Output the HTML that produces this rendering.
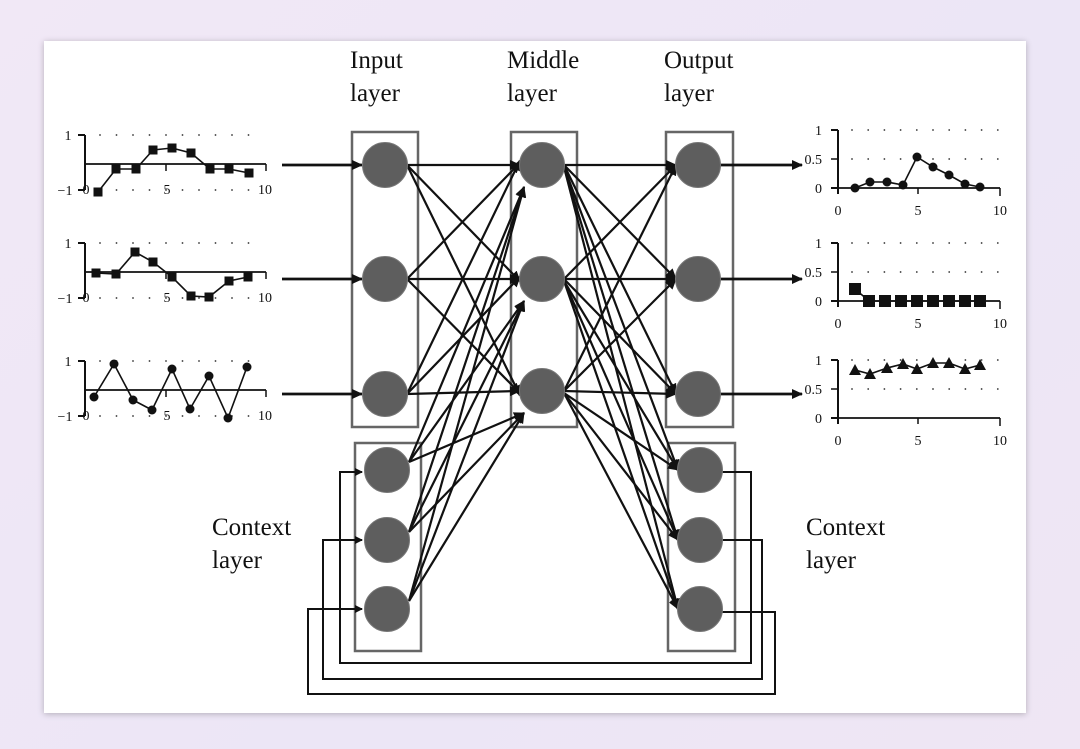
<!DOCTYPE html>
<html><head><meta charset="utf-8"><style>
html,body{margin:0;padding:0;width:1080px;height:749px;overflow:hidden;background:linear-gradient(135deg,#f1e8f6,#ece6f6 60%,#efe6f4);}
#card{position:absolute;left:44px;top:41px;width:982px;height:672px;background:#fff;box-shadow:0 1px 6px rgba(0,0,0,0.25);}
svg{position:absolute;left:0;top:0;}
text{font-family:"Liberation Serif",serif;fill:#111;}
</style></head><body>
<div id="card"></div>
<svg id="s" width="1080" height="749" viewBox="0 0 1080 749">
<defs>
<marker id="a" markerWidth="8" markerHeight="8" refX="7" refY="4" orient="auto" markerUnits="userSpaceOnUse"><path d="M0,0 L8,4 L0,8 Z" fill="#111"/></marker>
<marker id="b" markerWidth="11" markerHeight="10" refX="10" refY="5" orient="auto" markerUnits="userSpaceOnUse"><path d="M0,0 L11,5 L0,10 Z" fill="#111"/></marker>
</defs>
<g font-size="25">
<text x="350" y="68">Input</text><text x="350" y="101">layer</text>
<text x="507" y="68">Middle</text><text x="507" y="101">layer</text>
<text x="664" y="68">Output</text><text x="664" y="101">layer</text>
<text x="212" y="535">Context</text><text x="212" y="568">layer</text>
<text x="806" y="535">Context</text><text x="806" y="568">layer</text>
</g>
<g id="g" stroke="#111" fill="none"></g>
</svg>
<script>
var g=document.getElementById('g'),NS='http://www.w3.org/2000/svg';
function el(t,a,p){var e=document.createElementNS(NS,t);for(var k in a)e.setAttribute(k,a[k]);(p||g).appendChild(e);return e;}
function L(x1,y1,x2,y2,w,m){var a={x1:x1,y1:y1,x2:x2,y2:y2,'stroke-width':w||2};if(m)a['marker-end']='url(#'+m+')';el('line',a);}
function P(d,w,m){var a={d:d,'stroke-width':w||2,fill:'none'};if(m)a['marker-end']='url(#'+m+')';el('path',a);}
var bx=[[352,132,66,295],[511,132,66,295],[666,132,67,295],[355,443,66,208],[668,443,67,208]];
bx.forEach(function(b){el('rect',{x:b[0],y:b[1],width:b[2],height:b[3],stroke:'#666','stroke-width':2.5});});
var inp=[[385,165],[385,279],[385,394]],mid=[[542,165],[542,279],[542,391]],out=[[698,165],[698,279],[698,394]];
var cl=[[387,470],[387,540],[387,609]],cr=[[700,470],[700,540],[700,609]];
P('M722,472 H751 V663 H340 V472 H362',2,'a');
P('M722,540 H762 V679 H323 V540 H362',2,'a');
P('M722,612 H775 V694 H308 V609 H362',2,'a');
inp.forEach(function(n){L(282,n[1],362,n[1],2.8,'b');});
out.forEach(function(n){L(720,n[1],802,n[1],2.8,'b');});
inp.forEach(function(s){mid.forEach(function(t){L(s[0]+22,s[1],t[0]-22,t[1]+(t[1]-s[1])*0.02,2.2,'b');});});
cl.forEach(function(s){mid.forEach(function(t){L(s[0]+22,s[1]-8,t[0]-18,t[1]+22,2.2,'b');});});
mid.forEach(function(s){out.forEach(function(t){L(s[0]+22,s[1],t[0]-22,t[1],2.2,'b');});});
mid.forEach(function(s){cr.forEach(function(t){L(s[0]+22,s[1]+2,t[0]-22,t[1],2.2,'b');});});
inp.concat(mid,out,cl,cr).forEach(function(n){el('circle',{cx:n[0],cy:n[1],r:22.5,fill:'#5e5e5e',stroke:'#777','stroke-width':1});});
function T(x,y,s,sz,anc){var t=el('text',{x:x,y:y,'font-size':sz||13,'text-anchor':anc||'middle',stroke:'none'});t.textContent=s;}
function leftChart(yt,pts,marker){
 var y0=yt+29,ym=yt+55;
 L(85,yt,85,ym,2);L(78,yt,85,yt,2);L(78,ym,85,ym,2);L(85,y0,266,y0,1.8);L(266,y0,266,y0+7,1.5);L(166,y0,166,y0+7,1.5);
 for(var x=100;x<262;x+=16.5){el('circle',{cx:x,cy:yt,r:0.9,fill:'#333',stroke:'none'});el('circle',{cx:x,cy:ym,r:0.9,fill:'#333',stroke:'none'});}
 T(68,yt+5,'1',14);T(65,ym+5,'\u22121',14);T(86,ym+4,'0',14);T(167,ym+4,'5',14);T(265,ym+4,'10',14);
 var d='M'+pts.map(function(p){return p.join(',');}).join(' L');
 el('path',{d:d,'stroke-width':1.6,fill:'none'});
 pts.forEach(function(p){if(marker=='s')el('rect',{x:p[0]-4.5,y:p[1]-4.5,width:9,height:9,fill:'#111',stroke:'none'});else el('circle',{cx:p[0],cy:p[1],r:4.5,fill:'#111',stroke:'none'});});
}
leftChart(135,[[98,192],[116,169],[136,169],[153,150],[172,148],[191,153],[210,169],[229,169],[249,173]],'s');
leftChart(243,[[96,273],[116,274],[135,252],[153,262],[172,277],[191,296],[209,297],[229,281],[248,277]],'s');
leftChart(361,[[94,397],[114,364],[133,400],[152,410],[172,369],[190,409],[209,376],[228,418],[247,367]],'c');
function rightChart(yt,pts,marker){
 var yh=yt+29,y0=yt+58;
 L(838,yt,838,y0+6,2);L(831,yt,838,yt,2);L(831,yh,838,yh,1.5);L(831,y0,838,y0,2);L(838,y0,1000,y0,1.8);L(1000,y0,1000,y0+8,1.5);L(918,y0,918,y0+6,1.5);
 for(var x=852;x<1000;x+=16.2){el('circle',{cx:x,cy:yt,r:0.9,fill:'#333',stroke:'none'});el('circle',{cx:x,cy:yh,r:0.9,fill:'#333',stroke:'none'});}
 T(822,yt+5,'1',14,'end');T(822,yh+5,'0.5',14,'end');T(822,y0+5,'0',14,'end');
 T(838,y0+27,'0',14);T(918,y0+27,'5',14);T(1000,y0+27,'10',14);
 var d='M'+pts.map(function(p){return p.join(',');}).join(' L');
 el('path',{d:d,'stroke-width':1.6,fill:'none'});
 pts.forEach(function(p){
  if(marker=='s')el('rect',{x:p[0]-6,y:p[1]-6,width:12,height:12,fill:'#111',stroke:'none'});
  else if(marker=='t')el('path',{d:'M'+p[0]+','+(p[1]-6)+' L'+(p[0]+6)+','+(p[1]+5)+' L'+(p[0]-6)+','+(p[1]+5)+' Z',fill:'#111',stroke:'none'});
  else el('circle',{cx:p[0],cy:p[1],r:4.5,fill:'#111',stroke:'none'});});
}
rightChart(130,[[855,188],[870,182],[887,182],[903,185],[917,157],[933,167],[949,175],[965,184],[980,187]],'c');
rightChart(243,[[855,289],[869,301],[885,301],[901,301],[917,301],[933,301],[949,301],[965,301],[980,301]],'s');
rightChart(360,[[855,370],[870,374],[887,368],[903,364],[917,369],[933,363],[949,363],[965,369],[980,365]],'t');
</script>
</body></html>
